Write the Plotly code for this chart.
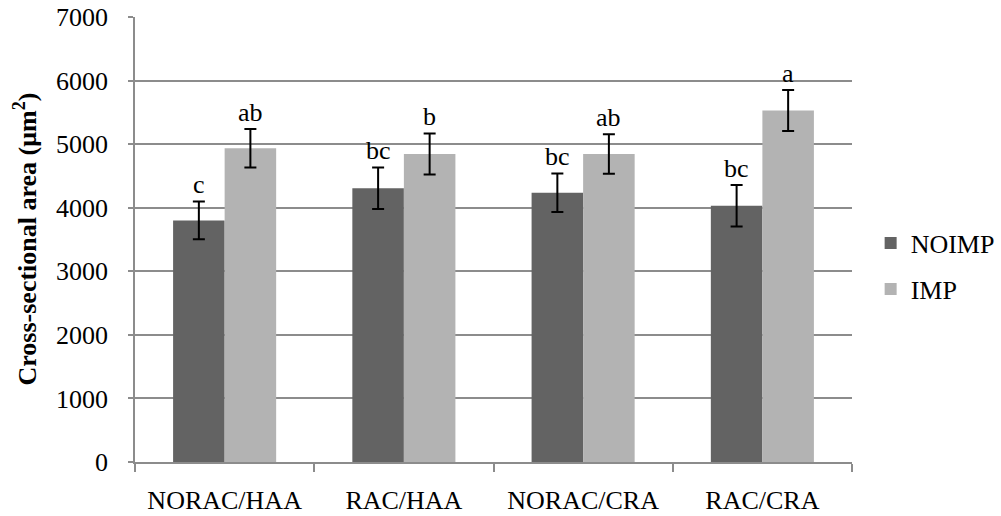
import plotly.graph_objects as go

# Treatment groups and measured cross-sectional areas
categories = ["NORAC/HAA", "RAC/HAA", "NORAC/CRA", "RAC/CRA"]
noimp_mean = [3800, 4306, 4236, 4031]
noimp_err = [298, 328, 304, 328]
imp_mean = [4935, 4846, 4846, 5528]
imp_err = [302, 323, 310, 323]
noimp_letters = ["c", "bc", "bc", "bc"]
imp_letters = ["ab", "b", "ab", "a"]
y_ticks = [0, 1000, 2000, 3000, 4000, 5000, 6000, 7000]

FONT = "Liberation Serif, Times New Roman, serif"
GRID = "#8c8c8c"

fig = go.Figure()
fig.add_trace(go.Bar(
    name="NOIMP", x=categories, y=noimp_mean,
    marker=dict(color="#636363", line=dict(width=0)),
    error_y=dict(type="data", array=noimp_err, color="black", thickness=2, width=6),
    legendgroup="g1",
))
fig.add_trace(go.Bar(
    name="IMP", x=categories, y=imp_mean,
    marker=dict(color="#b3b3b3", line=dict(width=0)),
    error_y=dict(type="data", array=imp_err, color="black", thickness=2, width=6),
    legendgroup="g2",
))

# Significance letters above each error bar
annotations = []
for i, cat in enumerate(categories):
    for mean, err, letters, shift in (
        (noimp_mean, noimp_err, noimp_letters, -0.1437),
        (imp_mean, imp_err, imp_letters, 0.1437),
    ):
        annotations.append(dict(
            x=i + shift, y=mean[i] + err[i], xref="x", yref="y",
            text=letters[i], showarrow=False, yanchor="bottom",
            yshift=0, font=dict(family=FONT, size=26, color="black"),
        ))

# Y-axis title, centred on the plot area
annotations.append(dict(
    x=0, y=0.5, xref="paper", yref="paper", xanchor="center", yanchor="middle",
    xshift=-109, text="<b>Cross-sectional area (μm<sup>2</sup>)</b>", textangle=-90,
    showarrow=False, font=dict(family=FONT, size=26, color="black"),
))

fig.update_layout(
    width=1001, height=516,
    margin=dict(l=135, r=149, t=17, b=54, pad=0, autoexpand=False),
    paper_bgcolor="white", plot_bgcolor="white",
    barmode="group", bargap=0.425, bargroupgap=0,
    font=dict(family=FONT, size=26, color="black"),
    showlegend=True,
    legend=dict(
        x=1.026, y=0.44, xanchor="left", yanchor="middle",
        font=dict(family=FONT, size=26, color="black"),
        tracegroupgap=9, itemwidth=30,
        bgcolor="rgba(0,0,0,0)",
    ),
    annotations=annotations,
    xaxis=dict(
        type="category", range=[-0.5, 3.5], tickson="boundaries",
        ticks="outside", ticklen=8, tickwidth=1.5, tickcolor=GRID,
        showline=True, linecolor=GRID, linewidth=1.5,
        showgrid=False, ticklabelstandoff=14, automargin=False,
        tickfont=dict(family=FONT, size=26, color="black"),
    ),
    yaxis=dict(
        range=[0, 7000], tickvals=y_ticks,
        ticks="outside", ticklen=5, tickwidth=1.5, tickcolor=GRID,
        showline=True, linecolor=GRID, linewidth=1.5,
        showgrid=True, gridcolor=GRID, gridwidth=1.5, zeroline=False,
        ticklabelstandoff=15, automargin=False,
        tickfont=dict(family=FONT, size=26, color="black"),
    ),
)

fig.write_html("out.html")
